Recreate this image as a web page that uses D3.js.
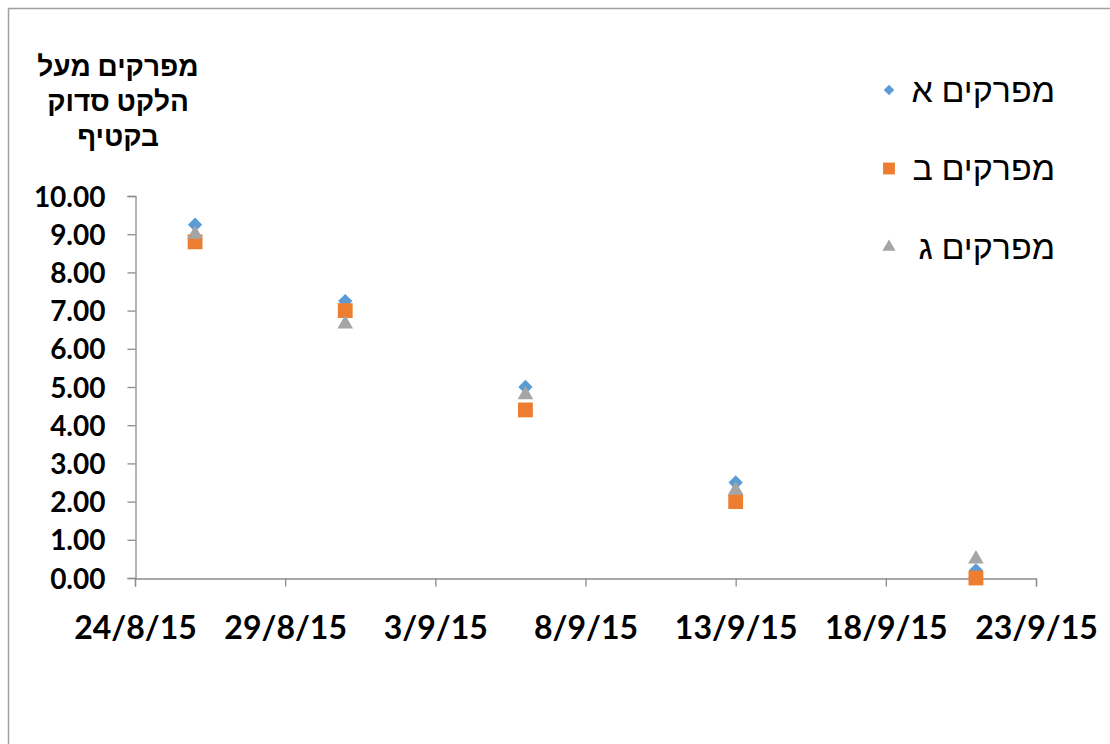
<html>
  <head>
    <meta charset="utf-8" />
    <script src="https://d3js.org/d3.v7.min.js"></script>
    <style>
      body { margin: 0; background: #fff; }
      text { font-family: Lato, "Liberation Sans", "DejaVu Sans", sans-serif; }
    </style>
  </head>
  <body>
    <svg id="chart" width="1110" height="744"></svg>
    <script>
      // data
      const dates = ["2015-08-26", "2015-08-31", "2015-09-06", "2015-09-13", "2015-09-21"];
      const seriesA = [9.25, 7.25, 5.0, 2.5, 0.2];
      const seriesB = [8.8, 7.0, 4.4, 2.0, 0.0];
      const seriesG = [9.0, 6.65, 4.8, 2.3, 0.5];
      const seriesNames = ["מפרקים א", "מפרקים ב", "מפרקים ג"];
      const xTicks = ["2015-08-24", "2015-08-29", "2015-09-03", "2015-09-08", "2015-09-13", "2015-09-18", "2015-09-23"];
      const yTicks = [0, 1, 2, 3, 4, 5, 6, 7, 8, 9, 10];
      const yTitle = ["מפרקים מעל", "הלקט סדוק", "בקטיף"];

      const svg = d3.select("#chart");
      const parse = d3.timeParse("%Y-%m-%d");
      const fmt = d3.timeFormat("%-d/%-m/%y");

      // chart frame
      svg.append("rect")
        .attr("x", 8.5).attr("y", 8.5)
        .attr("width", 1200).attr("height", 800)
        .attr("fill", "none").attr("stroke", "#a0a0a0").attr("stroke-width", 1.5);

      const x = d3.scaleTime()
        .domain([parse(xTicks[0]), parse(xTicks[xTicks.length - 1])])
        .range([135, 1036]);
      const y = d3.scaleLinear().domain([0, 10]).range([578, 196]);

      const axisColor = "#8c8c8c";

      // y axis
      const gy = svg.append("g").attr("transform", "translate(135.5,0)")
        .call(d3.axisLeft(y).tickValues(yTicks).tickSize(8).tickPadding(22)
          .tickFormat(d3.format(".2f")));
      gy.select(".domain").attr("stroke", axisColor).attr("stroke-width", 1.3);
      gy.selectAll(".tick line").attr("stroke", axisColor).attr("stroke-width", 1.3);
      gy.selectAll(".tick text")
        .attr("font-size", 28).attr("font-weight", "bold").attr("fill", "#000")
        .attr("dy", "0.36em");

      // x axis
      const gx = svg.append("g").attr("transform", "translate(0,578.5)")
        .call(d3.axisBottom(x).tickValues(xTicks.map(parse)).tickSize(8).tickPadding(30)
          .tickFormat(fmt));
      gx.select(".domain").attr("stroke", axisColor).attr("stroke-width", 1.3);
      gx.selectAll(".tick line").attr("stroke", axisColor).attr("stroke-width", 1.3);
      gx.selectAll(".tick text")
        .attr("font-size", 32).attr("font-weight", "bold").attr("fill", "#000")
        .attr("dy", "0.71em");

      // y title
      svg.append("g").selectAll("text").data(yTitle).join("text")
        .attr("x", 118).attr("y", (d, i) => 76 + i * 35)
        .attr("text-anchor", "middle").attr("direction", "rtl")
        .attr("font-size", 28).attr("font-weight", "bold").attr("fill", "#000")
        .text((d) => d);

      const colors = ["#5b9bd5", "#ed7d31", "#a5a5a5"];
      const shapes = [
        d3.symbol().type(d3.symbolDiamond2).size(130),
        d3.symbol().type(d3.symbolSquare).size(220),
        d3.symbol().type(d3.symbolTriangle).size(105)
      ];
      const allSeries = [seriesA, seriesB, seriesG];

      allSeries.forEach((vals, s) => {
        svg.append("g").selectAll("path").data(vals).join("path")
          .attr("transform", (d, i) => `translate(${x(parse(dates[i]))},${y(d)})`)
          .attr("d", shapes[s]())
          .attr("fill", colors[s]);
      });

      // legend
      const legend = svg.append("g").selectAll("g").data(seriesNames).join("g")
        .attr("transform", (d, i) => `translate(889,${90 + i * 78.5})`);
      legend.append("path")
        .attr("d", (d, i) => d3.symbol().type([d3.symbolDiamond2, d3.symbolSquare, d3.symbolTriangle][i])
          .size([70, 140, 75][i])())
        .attr("fill", (d, i) => colors[i]);
      legend.append("text")
        .attr("x", 1055).attr("transform", "translate(-889,0)")
        .attr("text-anchor", "start").attr("direction", "rtl")
        .attr("dy", "0.35em")
        .attr("font-size", 34).attr("fill", "#000")
        .text((d) => d);
    </script>
  </body>
</html>
